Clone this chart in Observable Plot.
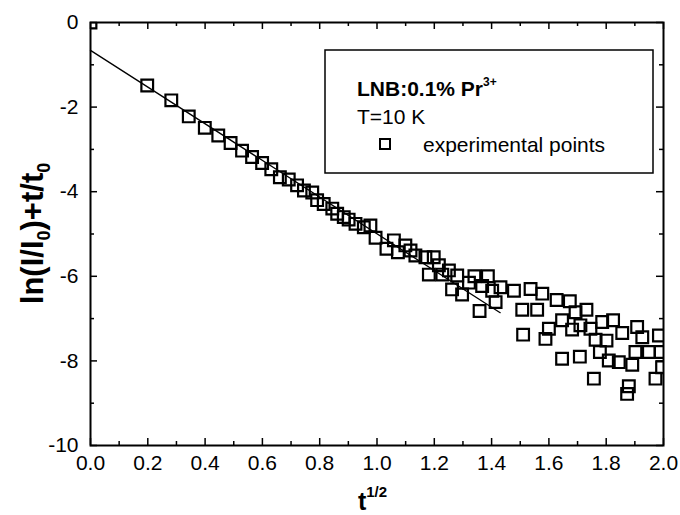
<!DOCTYPE html>
<html>
<head>
<meta charset="utf-8">
<script src="https://cdn.jsdelivr.net/npm/d3@7"></script>
<script src="https://cdn.jsdelivr.net/npm/@observablehq/plot@0.6"></script>
<style>
  html, body { margin: 0; padding: 0; background: #fff; }
  #chart svg { display: block; }
</style>
</head>
<body>
<div id="chart"></div>
<script>
// Experimental points: t^(1/2) and ln(I/I0)+t/t0
const ptX = [0.000, 0.198, 0.282, 0.343, 0.399, 0.446, 0.489, 0.529, 0.564, 0.599,
  0.631, 0.661, 0.692, 0.721, 0.745, 0.774, 0.791, 0.814, 0.844, 0.861,
  0.884, 0.901, 0.925, 0.954, 0.977, 0.995, 1.033, 1.059, 1.073, 1.099,
  1.117, 1.134, 1.169, 1.181, 1.198, 1.216, 1.228, 1.251, 1.262, 1.280,
  1.297, 1.321, 1.340, 1.358, 1.367, 1.387, 1.402, 1.414, 1.431, 1.478,
  1.507, 1.510, 1.536, 1.559, 1.577, 1.588, 1.600, 1.627, 1.646, 1.646,
  1.673, 1.681, 1.693, 1.708, 1.710, 1.731, 1.745, 1.757, 1.763, 1.778,
  1.786, 1.801, 1.809, 1.824, 1.844, 1.856, 1.873, 1.879, 1.891, 1.902,
  1.908, 1.926, 1.949, 1.972, 1.984, 1.990, 1.995];
const ptY = [0.00, -1.49, -1.84, -2.22, -2.49, -2.67, -2.85, -3.03, -3.18, -3.32,
  -3.47, -3.66, -3.71, -3.85, -3.97, -4.02, -4.20, -4.29, -4.40, -4.52,
  -4.60, -4.66, -4.76, -4.84, -4.80, -5.09, -5.35, -5.15, -5.43, -5.27,
  -5.39, -5.51, -5.55, -5.96, -5.55, -5.74, -5.96, -5.86, -6.31, -5.98,
  -6.43, -6.15, -6.00, -6.82, -6.23, -6.00, -6.34, -6.61, -6.26, -6.34,
  -6.79, -7.38, -6.30, -6.79, -6.41, -7.48, -7.24, -6.56, -7.04, -7.95,
  -6.59, -7.26, -6.85, -7.90, -7.16, -6.79, -7.24, -8.42, -7.50, -7.79,
  -7.08, -7.52, -7.99, -7.04, -8.03, -7.34, -8.78, -8.60, -8.09, -7.79,
  -7.20, -7.44, -7.79, -8.42, -7.40, -7.79, -8.15];

// Linear fit line end points
const fitX = [0.0, 1.43];
const fitY = [-0.66, -6.86];

// Ticks
const xMajor = [0.0, 0.2, 0.4, 0.6, 0.8, 1.0, 1.2, 1.4, 1.6, 1.8, 2.0];
const xMinor = [0.1, 0.3, 0.5, 0.7, 0.9, 1.1, 1.3, 1.5, 1.7, 1.9];
const yMajor = [0, -2, -4, -6, -8, -10];
const yMinor = [-1, -3, -5, -7, -9];

const points = ptX.map((x, i) => ({x, y: ptY[i]}));
const fit = fitX.map((x, i) => ({x, y: fitY[i]}));

const W = 680, H = 515;
const mL = 90, mR = 17, mT = 22, mB = 70;
const innerW = W - mL - mR, innerH = H - mT - mB;
const majLen = 7, minLen = 4;
const font = "'Liberation Sans', Arial, Helvetica, sans-serif";

const plot = Plot.plot({
  width: W,
  height: H,
  marginLeft: mL, marginRight: mR, marginTop: mT, marginBottom: mB,
  style: {fontFamily: font, fontSize: "20px", color: "#000", background: "#fff"},
  x: {domain: [0, 2], axis: null},
  y: {domain: [-10, 0], axis: null},
  marks: [
    Plot.line(fit, {x: "x", y: "y", stroke: "#000", strokeWidth: 1.3}),
    Plot.dot(points, {x: "x", y: "y", symbol: "square", r: 6.6, stroke: "#000", strokeWidth: 2.2, fill: "none", clip: true}),
    // inward ticks: bottom, top
    Plot.tickX(xMajor, {x: d => d, stroke: "#000", strokeWidth: 1.5, insetTop: innerH - majLen}),
    Plot.tickX(xMinor, {x: d => d, stroke: "#000", strokeWidth: 1.5, insetTop: innerH - minLen}),
    Plot.tickX(xMajor, {x: d => d, stroke: "#000", strokeWidth: 1.5, insetBottom: innerH - majLen}),
    Plot.tickX(xMinor, {x: d => d, stroke: "#000", strokeWidth: 1.5, insetBottom: innerH - minLen}),
    // inward ticks: left, right
    Plot.tickY(yMajor, {y: d => d, stroke: "#000", strokeWidth: 1.5, insetRight: innerW - majLen}),
    Plot.tickY(yMinor, {y: d => d, stroke: "#000", strokeWidth: 1.5, insetRight: innerW - minLen}),
    Plot.tickY(yMajor, {y: d => d, stroke: "#000", strokeWidth: 1.5, insetLeft: innerW - majLen}),
    Plot.tickY(yMinor, {y: d => d, stroke: "#000", strokeWidth: 1.5, insetLeft: innerW - minLen}),
    Plot.frame({stroke: "#000", strokeWidth: 2}),
    Plot.axisX(xMajor, {tickSize: 0, tickPadding: 10, tickFormat: d3.format(".1f"), label: null, fontSize: 21}),
    Plot.axisY(yMajor, {tickSize: 0, tickPadding: 12, tickFormat: d => String(d), label: null, fontSize: 21})
  ]
});

const svg = d3.select(plot);

// X axis title: t^(1/2)
const xt = svg.append("text")
  .attr("x", mL + innerW / 2 - 4)
  .attr("y", 510)
  .attr("text-anchor", "middle")
  .attr("font-family", font)
  .attr("font-weight", "bold")
  .attr("font-size", 25)
  .attr("fill", "#000");
xt.append("tspan").text("t");
xt.append("tspan").attr("font-size", 15).attr("dy", -13).text("1/2");

// Y axis title: ln(I/I0)+t/t0
const yt = svg.append("text")
  .attr("transform", `translate(43,${mT + innerH / 2}) rotate(-90)`)
  .attr("text-anchor", "middle")
  .attr("font-family", font)
  .attr("font-weight", "bold")
  .attr("font-size", 31)
  .attr("fill", "#000");
yt.append("tspan").text("ln(I/I");
yt.append("tspan").attr("font-size", 18).attr("dy", 7).text("0");
yt.append("tspan").attr("dy", -7).text(")+t/t");
yt.append("tspan").attr("font-size", 18).attr("dy", 7).text("0");

// Legend box
const lg = svg.append("g").attr("text-anchor", "start");
lg.append("rect")
  .attr("x", 325).attr("y", 50).attr("width", 328).attr("height", 123)
  .attr("fill", "#fff").attr("stroke", "#000").attr("stroke-width", 1.5);
const l1 = lg.append("text")
  .attr("x", 357).attr("y", 96).attr("text-anchor", "start")
  .attr("font-family", font).attr("font-weight", "bold").attr("font-size", 21).attr("fill", "#000");
l1.append("tspan").text("LNB:0.1% Pr");
l1.append("tspan").attr("font-size", 12).attr("dy", -10).text("3+");
lg.append("text")
  .attr("x", 357).attr("y", 124).attr("text-anchor", "start")
  .attr("font-family", font).attr("font-size", 21).attr("fill", "#000")
  .text("T=10 K");
lg.append("rect")
  .attr("x", 380).attr("y", 139).attr("width", 10).attr("height", 10)
  .attr("fill", "none").attr("stroke", "#000").attr("stroke-width", 2);
lg.append("text")
  .attr("x", 423).attr("y", 152).attr("text-anchor", "start")
  .attr("font-family", font).attr("font-size", 21).attr("fill", "#000")
  .text("experimental points");

document.getElementById("chart").appendChild(plot);
</script>
</body>
</html>
